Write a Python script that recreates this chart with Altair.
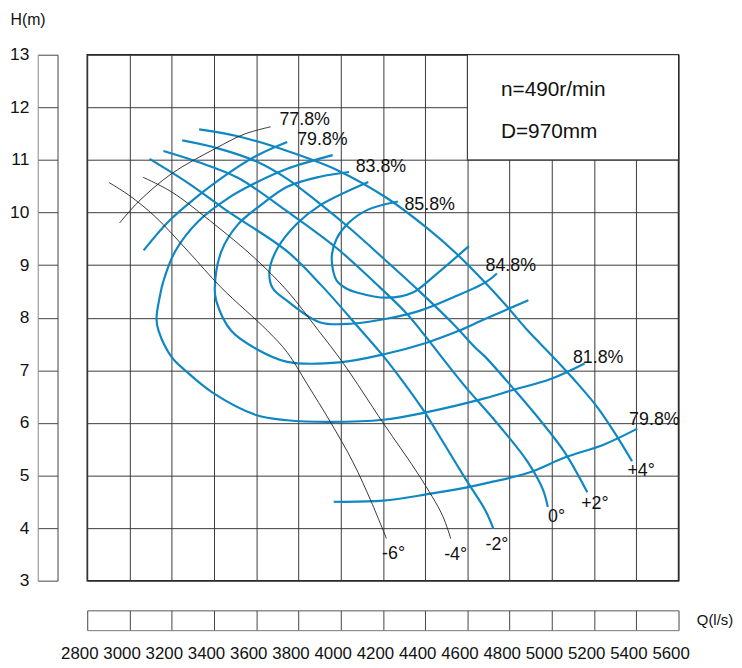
import altair as alt
import pandas as pd

# ---------------- data ----------------
q_ticks = list(range(2800, 5601, 200))
h_ticks = list(range(3, 14))

# efficiency contours (blue)
eff798_top_q = [3067, 3185, 3310, 3466, 3607, 3747]
eff798_top_h = [9.28, 9.83, 10.27, 10.74, 11.09, 11.34]
eff798_bot_q = [3967, 4201, 4420, 4592, 4686, 4889, 5061, 5248, 5405]
eff798_bot_h = [4.50, 4.52, 4.65, 4.77, 4.85, 5.05, 5.34, 5.59, 5.89]
eff818_q = [3962, 3747, 3591, 3466, 3325, 3216, 3161, 3146, 3128, 3138, 3200, 3263, 3399, 3599, 3747, 3951, 4201, 4404, 4686, 4811, 4998, 5155]
eff818_h = [11.09, 10.83, 10.55, 10.27, 9.83, 9.26, 8.70, 8.45, 7.98, 7.75, 7.25, 7.00, 6.56, 6.15, 6.05, 6.02, 6.06, 6.20, 6.47, 6.62, 6.84, 7.13]
eff838_q = [4040, 3902, 3747, 3622, 3513, 3435, 3404, 3411, 3482, 3599, 3747, 3996, 4201, 4404, 4559, 4686, 4889]
eff838_h = [10.77, 10.68, 10.49, 10.14, 9.77, 9.26, 8.57, 8.32, 7.75, 7.41, 7.16, 7.15, 7.30, 7.52, 7.75, 7.98, 8.33]
eff848_q = [4131, 3904, 3794, 3701, 3663, 3677, 3747, 3904, 4060, 4217, 4373, 4529, 4686, 4740]
eff848_h = [10.58, 10.14, 9.79, 9.32, 8.89, 8.57, 8.32, 7.91, 7.89, 7.98, 8.13, 8.38, 8.67, 8.84]
eff858_q = [4271, 4127, 4037, 3982, 3959, 3963, 3982, 4029, 4076, 4217, 4342, 4451, 4607]
eff858_h = [10.21, 10.05, 9.80, 9.51, 9.21, 8.92, 8.70, 8.55, 8.48, 8.38, 8.48, 8.82, 9.36]

# head curves for blade angles (blue)
hp4_q = [3330, 3513, 3747, 3982, 4217, 4404, 4545, 4686, 4793, 4887, 5000, 5108, 5215, 5309, 5380]
hp4_h = [11.58, 11.45, 11.17, 10.81, 10.28, 9.72, 9.23, 8.66, 8.19, 7.75, 7.28, 6.81, 6.30, 5.74, 5.27]
hp2_q = [3250, 3419, 3607, 3747, 3888, 4043, 4202, 4371, 4531, 4638, 4686, 4812, 4943, 5061, 5168]
hp2_h = [11.37, 11.22, 10.96, 10.64, 10.21, 9.70, 9.13, 8.51, 7.89, 7.43, 7.25, 6.68, 6.06, 5.44, 4.68]
h0_q = [3161, 3325, 3513, 3747, 3982, 4169, 4310, 4381, 4498, 4592, 4686, 4779, 4887, 4957, 4981]
h0_h = [11.17, 10.96, 10.66, 10.02, 9.32, 8.64, 8.09, 7.75, 7.15, 6.68, 6.25, 5.81, 5.25, 4.74, 4.40]
hm2_q = [3095, 3278, 3466, 3747, 3912, 4090, 4202, 4296, 4390, 4484, 4592, 4686, 4723]
hm2_h = [11.02, 10.56, 10.02, 9.26, 8.60, 7.79, 7.27, 6.78, 6.25, 5.64, 4.93, 4.33, 3.99]

# thin black curves
eff778_q = [2953, 3044, 3200, 3404, 3544, 3669]
eff778_h = [9.80, 10.21, 10.74, 11.21, 11.49, 11.63]
hm4_q = [3064, 3200, 3404, 3591, 3747, 3896, 4013, 4201, 4373, 4482, 4521]
hm4_h = [10.67, 10.39, 9.77, 9.14, 8.51, 7.75, 7.13, 6.00, 4.99, 4.24, 3.80]
hm6_q = [2903, 2997, 3122, 3278, 3435, 3654, 3747, 3841, 3951, 4060, 4146, 4217]
hm6_h = [10.57, 10.33, 9.92, 9.26, 8.57, 7.75, 7.34, 6.74, 6.02, 5.24, 4.49, 3.80]

# curve labels
label_text = ["77.8%", "79.8%", "83.8%", "85.8%", "84.8%", "81.8%", "79.8%",
              "+4°", "+2°", "0°", "-2°", "-4°", "-6°"]
label_q = [3710, 3794, 4071, 4302, 4686, 5100, 5366, 5358, 5139, 4982, 4686, 4490, 4196]
label_h = [11.66, 11.28, 10.77, 10.05, 8.89, 7.13, 5.96, 4.99, 4.36, 4.11, 3.58, 3.39, 3.42]

info_text = ["n=490r/min", "D=970mm"]
info_q = [4759, 4759]
info_h = [12.22, 11.41]

# white info box region
box_q = [4600, 5600]
box_h = [11, 13]

# ---------------- frames ----------------
def long_df(curves):
    rows = []
    for name, qs, hs in curves:
        for i, (q, h) in enumerate(zip(qs, hs)):
            rows.append({"curve": name, "i": i, "Q": q, "H": h})
    return pd.DataFrame(rows)

blue_df = long_df([
    ("e798t", eff798_top_q, eff798_top_h), ("e798b", eff798_bot_q, eff798_bot_h),
    ("e818", eff818_q, eff818_h), ("e838", eff838_q, eff838_h),
    ("e848", eff848_q, eff848_h), ("e858", eff858_q, eff858_h),
    ("p4", hp4_q, hp4_h), ("p2", hp2_q, hp2_h), ("z0", h0_q, h0_h), ("m2", hm2_q, hm2_h),
])
black_df = long_df([
    ("e778", eff778_q, eff778_h), ("m4", hm4_q, hm4_h), ("m6", hm6_q, hm6_h),
])
lab_df = pd.DataFrame({"t": label_text, "Q": label_q, "H": label_h})
info_df = pd.DataFrame({"t": info_text, "Q": info_q, "H": info_h})
box_df = pd.DataFrame({"q0": [box_q[0]], "q1": [box_q[1]], "h0": [box_h[0]], "h1": [box_h[1]]})

FONT = "Liberation Sans, Arial, sans-serif"
BLUE = "#0f87c3"
INK = "#111111"

xs = alt.Scale(domain=[2800, 5600], nice=False, zero=False)
ys = alt.Scale(domain=[3, 13], nice=False, zero=False)

grid_x = alt.Axis(values=q_ticks, grid=True, gridColor="#3a3a3a", gridWidth=1, gridOpacity=1,
                  labels=False, ticks=False, domain=False, title=None, orient="bottom")
grid_y = alt.Axis(values=h_ticks, grid=True, gridColor="#3a3a3a", gridWidth=1, gridOpacity=1,
                  labels=False, ticks=False, domain=False, title=None, orient="left")

strip_x = alt.Axis(orient="bottom", offset=30, values=q_ticks, grid=False, labels=False,
                   ticks=True, tickSize=20, tickColor="#444", tickWidth=1,
                   domain=True, domainColor="#555", domainWidth=1, title=None)
strip_y = alt.Axis(orient="left", offset=30, values=h_ticks, grid=False, labels=False,
                   ticks=True, tickSize=20, tickColor="#444", tickWidth=1,
                   domain=True, domainColor="#444", domainWidth=1, title=None)

lab_x = alt.Axis(orient="bottom", offset=50, values=q_ticks, grid=False, ticks=False, tickSize=0,
                 domain=True, domainColor="#777", domainWidth=1,
                 labels=True, labelFont=FONT, labelFontSize=17, labelColor=INK,
                 labelPadding=16, labelOffset=-8, labelFlush=False, labelOverlap=False, labelBound=False,
                 format="d", title="Q(l/s)", titleFont=FONT, titleFontSize=15,
                 titleFontWeight="normal", titleColor=INK, titleX=615, titleY=-11,
                 titleAlign="left", titleBaseline="middle", titleAngle=0)
lab_y = alt.Axis(orient="left", offset=50, values=h_ticks, grid=False, ticks=False, tickSize=0,
                 domain=True, domainColor="#888", domainWidth=1,
                 labels=True, labelFont=FONT, labelFontSize=17.5, labelColor=INK,
                 labelPadding=9, labelFlush=False, labelOverlap=False, labelBound=False,
                 format="d", title="H(m)", titleFont=FONT, titleFontSize=16,
                 titleFontWeight="normal", titleColor=INK, titleX=-28, titleY=-35,
                 titleAlign="left", titleBaseline="middle", titleAngle=0)

box = alt.Chart(box_df).mark_rect(fill="white", stroke="#222", strokeWidth=1).encode(
    x=alt.X("q0:Q", scale=xs, axis=grid_x), x2="q1:Q",
    y=alt.Y("h0:Q", scale=ys, axis=grid_y), y2="h1:Q",
)

blue = alt.Chart(blue_df).mark_line(color=BLUE, strokeWidth=2.2, interpolate="catmull-rom").encode(
    x=alt.X("Q:Q", scale=xs, axis=strip_x),
    y=alt.Y("H:Q", scale=ys, axis=strip_y),
    detail="curve:N", order="i:Q",
)

black = alt.Chart(black_df).mark_line(color="#222", strokeWidth=0.9, interpolate="catmull-rom").encode(
    x=alt.X("Q:Q", scale=xs, axis=lab_x),
    y=alt.Y("H:Q", scale=ys, axis=lab_y),
    detail="curve:N", order="i:Q",
)

labels = alt.Chart(lab_df).mark_text(align="left", baseline="alphabetic", font=FONT,
                                     fontSize=18, color=INK).encode(
    x=alt.X("Q:Q", scale=xs, axis=None), y=alt.Y("H:Q", scale=ys, axis=None), text="t:N")

info = alt.Chart(info_df).mark_text(align="left", baseline="alphabetic", font=FONT,
                                    fontSize=21, color=INK).encode(
    x=alt.X("Q:Q", scale=xs, axis=None), y=alt.Y("H:Q", scale=ys, axis=None), text="t:N")

chart = alt.layer(box, blue, black, labels, info).resolve_axis(
    x="independent", y="independent"
).properties(
    width=597, height=531,
    autosize=alt.AutoSizeParams(type="none"),
    padding={"left": 80, "top": 44, "right": 56, "bottom": 82},
).configure_view(stroke="#222", strokeWidth=1.5)

chart.save("out.html", embed_options={"renderer": "svg", "actions": False})
